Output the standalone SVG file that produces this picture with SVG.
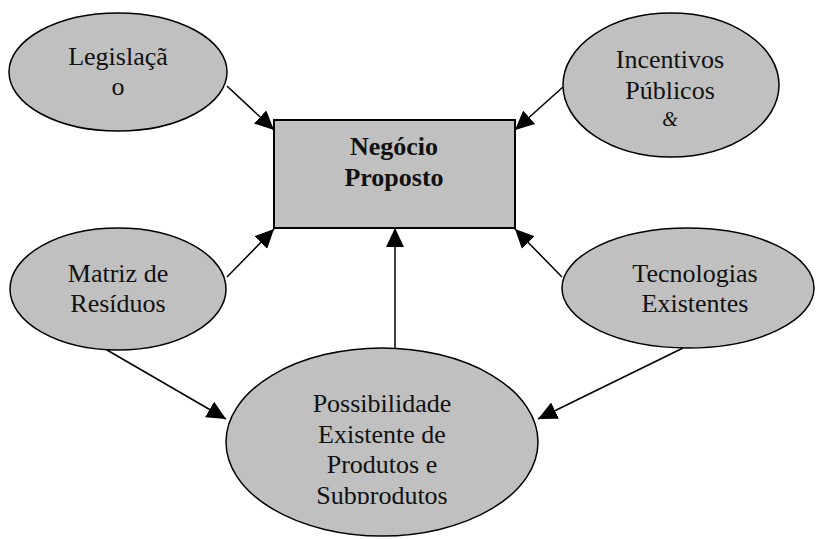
<svg xmlns="http://www.w3.org/2000/svg" width="817" height="539" viewBox="0 0 817 539">
<style>
.node{fill:#c0c0c0;stroke:#000;stroke-width:1.5}
.box{fill:#c0c0c0;stroke:#000;stroke-width:2}
.t{font-family:"Liberation Serif","Times New Roman",serif;font-size:26px;fill:#111;text-anchor:middle}
.b{font-weight:bold}
.c{stroke:#000;stroke-width:1.5;fill:none;marker-end:url(#ah)}
</style>
<defs>
<marker id="ah" markerUnits="userSpaceOnUse" markerWidth="20" markerHeight="18" refX="19" refY="9" orient="auto">
<path d="M0,0 L19,9 L0,18 z" fill="#000"/>
</marker>
<clipPath id="clipP"><rect x="226" y="340" width="312" height="164"/></clipPath>
</defs>
<rect width="817" height="539" fill="#fff"/>
<g id="connectors">
<line class="c" x1="227" y1="86" x2="274" y2="130"/>
<line class="c" x1="563" y1="87" x2="515" y2="130"/>
<line class="c" x1="227" y1="277" x2="274" y2="229"/>
<line class="c" x1="395" y1="348" x2="395" y2="228"/>
<line class="c" x1="562" y1="277" x2="515" y2="229"/>
<line class="c" x1="107" y1="350" x2="226" y2="419"/>
<line class="c" x1="683" y1="348" x2="538" y2="419"/>
</g>
<g id="negocio">
<rect class="box" x="274" y="120" width="241" height="108"/>
<text class="t b" x="394" y="155">Negócio</text>
<text class="t b" x="394" y="186">Proposto</text>
</g>
<g id="legislacao">
<ellipse class="node" cx="118" cy="72" rx="109" ry="59"/>
<text class="t" x="118" y="65">Legislaçã</text>
<text class="t" x="118" y="95">o</text>
</g>
<g id="incentivos">
<ellipse class="node" cx="671" cy="85" rx="108" ry="72"/>
<text class="t" x="670" y="68">Incentivos</text>
<text class="t" x="670" y="99">Públicos</text>
<text class="t" x="670" y="126" style="font-style:italic;font-size:20px">&amp;</text>
</g>
<g id="matriz">
<ellipse class="node" cx="118" cy="289" rx="108" ry="61"/>
<text class="t" x="118" y="282">Matriz de</text>
<text class="t" x="118" y="312">Resíduos</text>
</g>
<g id="tecnologias">
<ellipse class="node" cx="688" cy="288" rx="126" ry="60"/>
<text class="t" x="695" y="282">Tecnologias</text>
<text class="t" x="695" y="312">Existentes</text>
</g>
<g id="possibilidade">
<ellipse class="node" cx="382" cy="442" rx="156" ry="94"/>
<g clip-path="url(#clipP)">
<text class="t" x="382" y="412">Possibilidade</text>
<text class="t" x="382" y="443">Existente de</text>
<text class="t" x="382" y="473">Produtos e</text>
<text class="t" x="382" y="504">Subprodutos</text>
</g>
</g>
</svg>
